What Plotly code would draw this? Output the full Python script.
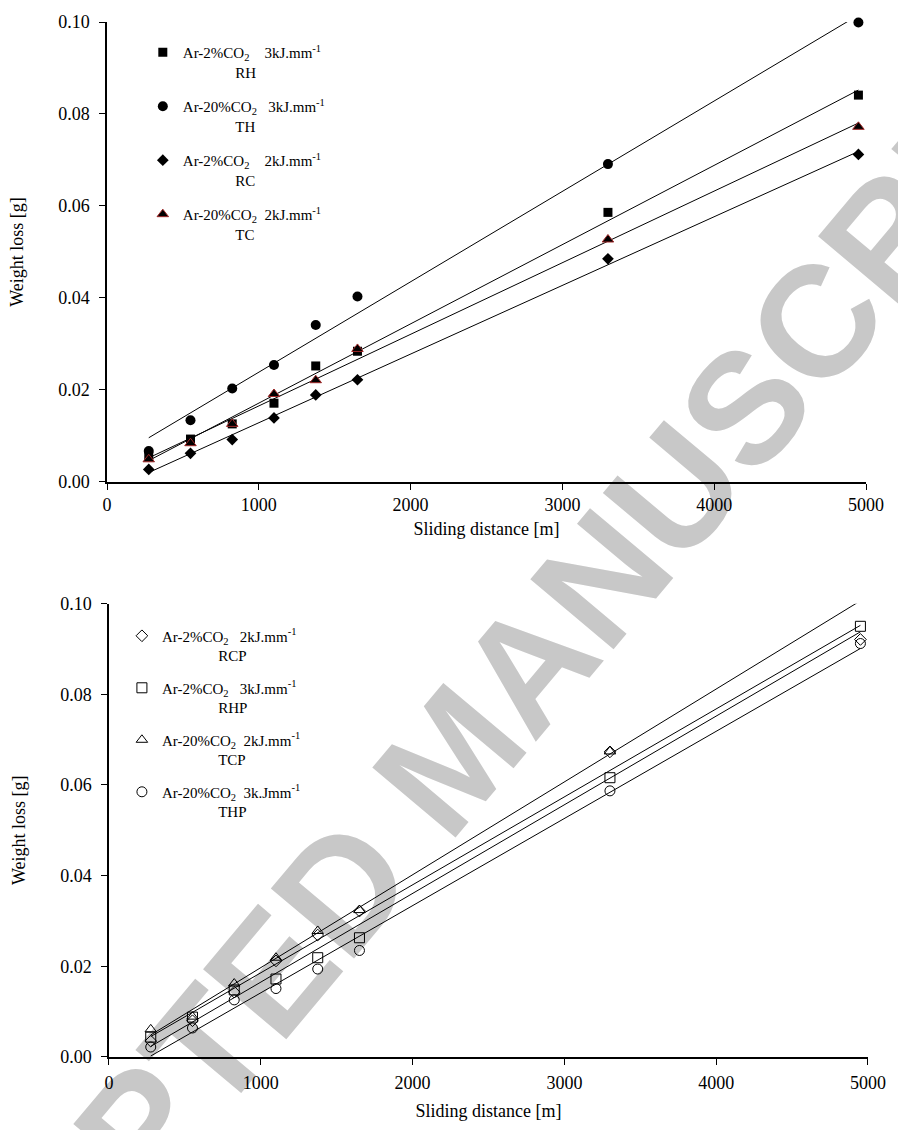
import numpy as np
import plotly.graph_objects as go

# ---------------- data ----------------
distance = [275, 550, 825, 1100, 1375, 1650, 3300, 4950]

# top panel (filled markers)
rh = [0.0055, 0.0093, 0.0126, 0.0171, 0.0252, 0.0284, 0.0586, 0.0841]
th = [0.0067, 0.0134, 0.0203, 0.0254, 0.0341, 0.0403, 0.0691, 0.0999]
rc = [0.0027, 0.0062, 0.0092, 0.0139, 0.0189, 0.0222, 0.0485, 0.0712]
tc = [0.0049, 0.0084, 0.0126, 0.0191, 0.0221, 0.0289, 0.0527, 0.0772]

# bottom panel (open markers)
rcp = [0.0035, 0.0080, 0.0143, 0.0212, 0.0269, 0.0322, 0.0673, 0.0921]
rhp = [0.0044, 0.0088, 0.0148, 0.0172, 0.0219, 0.0263, 0.0616, 0.0950]
tcp = [0.0061, 0.0089, 0.0162, 0.0219, 0.0278, 0.0324, 0.0674, 0.1004]
thp = [0.0022, 0.0064, 0.0126, 0.0151, 0.0194, 0.0235, 0.0587, 0.0912]

y_ticks = [0.00, 0.02, 0.04, 0.06, 0.08, 0.10]
x_ticks = [0, 1000, 2000, 3000, 4000, 5000]

NB = "&nbsp;"
def label(first, second, pad):
    return first + "<br>" + NB * pad + second

top_series = [
    ("RH", rh, dict(symbol="square", size=9, color="black"),
     label("Ar-2%CO<sub>2</sub>" + NB * 4 + "3kJ.mm<sup>-1</sup>", "RH", 14)),
    ("TH", th, dict(symbol="circle", size=10, color="black"),
     label("Ar-20%CO<sub>2</sub>" + NB * 3 + "3kJ.mm<sup>-1</sup>", "TH", 14)),
    ("RC", rc, dict(symbol="diamond", size=9, color="black"),
     label("Ar-2%CO<sub>2</sub>" + NB * 4 + "2kJ.mm<sup>-1</sup>", "RC", 14)),
    ("TC", tc, dict(symbol="triangle-up", size=10, color="black",
                    line=dict(color="#a02828", width=1)),
     label("Ar-20%CO<sub>2</sub>" + NB * 2 + "2kJ.mm<sup>-1</sup>", "TC", 14)),
]
bottom_series = [
    ("RCP", rcp, dict(symbol="diamond-open", size=9, color="black", line=dict(width=1, color="black")),
     label("Ar-2%CO<sub>2</sub>" + NB * 3 + "2kJ.mm<sup>-1</sup>", "RCP", 15)),
    ("RHP", rhp, dict(symbol="square-open", size=10, color="black", line=dict(width=1, color="black")),
     label("Ar-2%CO<sub>2</sub>" + NB * 3 + "3kJ.mm<sup>-1</sup>", "RHP", 15)),
    ("TCP", tcp, dict(symbol="triangle-up-open", size=10, color="black", line=dict(width=1, color="black")),
     label("Ar-20%CO<sub>2</sub>" + NB * 2 + "2kJ.mm<sup>-1</sup>", "TCP", 15)),
    ("THP", thp, dict(symbol="circle-open", size=10, color="black", line=dict(width=1, color="black")),
     label("Ar-20%CO<sub>2</sub>" + NB * 2 + "3k.Jmm<sup>-1</sup>", "THP", 15)),
]

fig = go.Figure()

def add_panel(series, xa, ya, legend):
    for key, vals, marker, name in series:
        x = np.array(distance, dtype=float)
        y = np.array(vals, dtype=float)
        slope, icpt = np.polyfit(x, y, 1)
        xl = np.array([x[0], x[-1]])
        fig.add_trace(go.Scatter(x=xl, y=slope * xl + icpt, mode="lines",
                                 line=dict(color="black", width=1),
                                 showlegend=False, hoverinfo="skip",
                                 xaxis=xa, yaxis=ya))
    for key, vals, marker, name in series:
        fig.add_trace(go.Scatter(x=distance, y=vals, mode="markers", marker=marker,
                                 name=name, legendgroup=key, legend=legend,
                                 cliponaxis=False, xaxis=xa, yaxis=ya))

add_panel(top_series, "x", "y", "legend")
add_panel(bottom_series, "x2", "y2", "legend2")

serif = "Liberation Serif, Times New Roman, serif"
axis_common = dict(showline=True, linecolor="black", linewidth=1.5, ticks="outside",
                   ticklen=6, tickwidth=1, tickcolor="black", showgrid=False,
                   zeroline=False, mirror=False,
                   tickfont=dict(family=serif, size=18, color="black"))

L, R, T, B = 107, 26, 19, 70
W, H = 898, 1130
pw, ph = W - L - R, H - T - B

fig.update_layout(
    width=W, height=H,
    margin=dict(l=L, r=R, t=T, b=B),
    paper_bgcolor="white", plot_bgcolor="white",
    font=dict(family=serif, color="black"),
    xaxis=dict(axis_common, domain=[0, (870 - L) / pw], range=[0, 5000],
               tickvals=x_ticks, anchor="y",
               title=dict(text="Sliding distance [m]", font=dict(size=18), standoff=8)),
    yaxis=dict(axis_common, domain=[(1060 - 481.5) / ph, 1], range=[0, 0.1],
               tickvals=y_ticks, tickformat=".2f", anchor="x", ticklabelstandoff=6,
               title=dict(text="Weight loss [g]", font=dict(size=18), standoff=30)),
    xaxis2=dict(axis_common, domain=[2 / pw, 1], range=[0, 5000],
                tickvals=x_ticks, anchor="y2", ticklabelstandoff=3,
                title=dict(text="Sliding distance [m]", font=dict(size=18), standoff=12)),
    yaxis2=dict(axis_common, domain=[0, (1060 - 604) / ph], range=[0, 0.1],
                tickvals=y_ticks, tickformat=".2f", anchor="x2", ticklabelstandoff=6,
                title=dict(text="Weight loss [g]", font=dict(size=18), standoff=30)),
    legend=dict(x=(143 - L) / pw, y=(1060 - 33) / ph, xanchor="left", yanchor="top",
                bgcolor="rgba(0,0,0,0)", borderwidth=0, valign="top",
                tracegroupgap=12, font=dict(family=serif, size=15, color="black")),
    legend2=dict(x=(122 - L) / pw, y=(1060 - 620) / ph, xanchor="left", yanchor="top",
                 bgcolor="rgba(0,0,0,0)", borderwidth=0, valign="top",
                 tracegroupgap=10, font=dict(family=serif, size=15, color="black")),
    showlegend=True,
)

# watermark, drawn beneath the data
cx, cy = (442 - L) / pw, (1060 - 748) / ph
fig.add_shape(type="line", xref="paper", yref="paper",
              x0=cx - 0.2, y0=cy - 0.2, x1=cx + 0.2, y1=cy + 0.2,
              line=dict(color="rgba(0,0,0,0)", width=0), layer="below",
              label=dict(text="ACCEPTED MANUSCRIPT", textangle=-50, textposition="middle",
                         xanchor="center", yanchor="middle", padding=0,
                         font=dict(family="Liberation Sans, Arial, sans-serif", size=158,
                                   color="#c8c8c8", weight="bold")))

fig.write_html("out.html")
